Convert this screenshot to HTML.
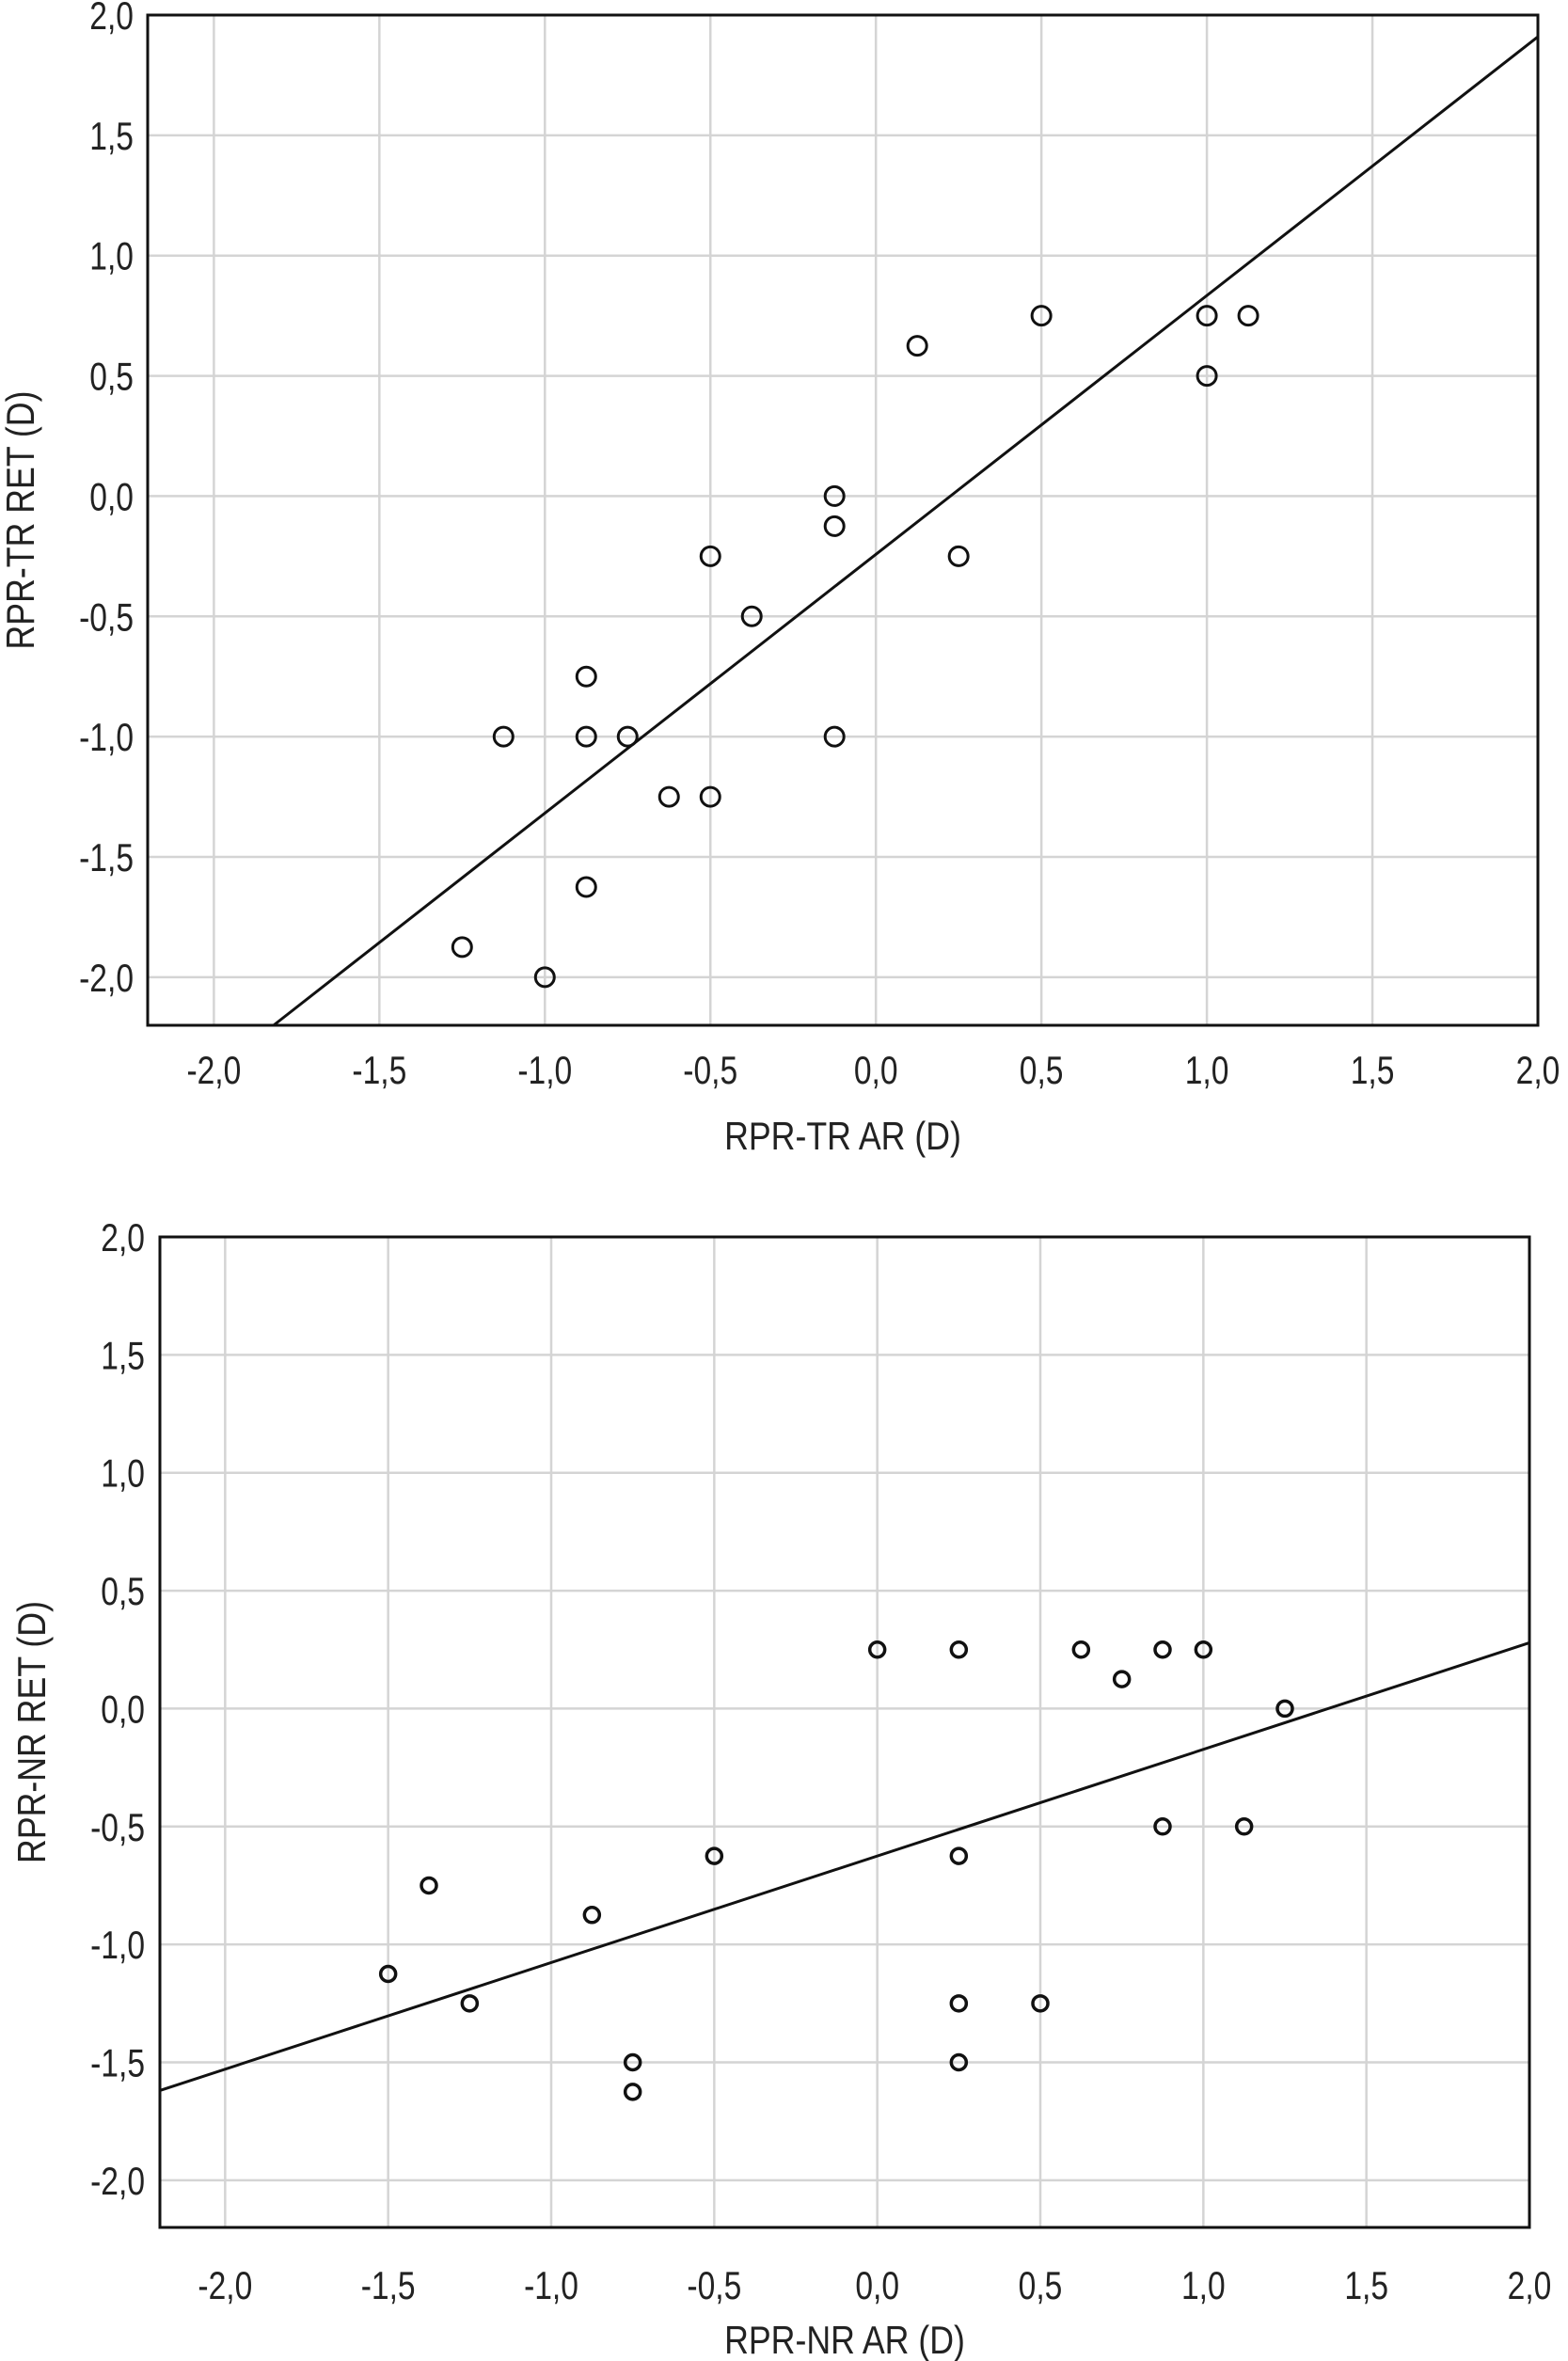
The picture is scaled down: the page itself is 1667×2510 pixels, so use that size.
<!DOCTYPE html>
<html><head><meta charset="utf-8"><style>
html,body{margin:0;padding:0;background:#fff}
svg{display:block}
text{font-family:"Liberation Sans",sans-serif;fill:#222}
</style></head><body>
<svg id="svg" width="1667" height="2510" viewBox="0 0 1667 2510"></svg>
<script>
const ticks=[-2,-1.5,-1,-0.5,0,0.5,1,1.5,2];
const tickLabels=["-2,0","-1,5","-1,0","-0,5","0,0","0,5","1,0","1,5","2,0"];
const trX=[-1.25,-1,-0.875,-1.125,-0.875,-0.75,-0.875,-0.625,-0.5,-0.5,-0.375,-0.125,-0.125,-0.125,0.125,0.25,0.5,1,1.125,1];
const trY=[-1.875,-2,-1.625,-1,-1,-1,-0.75,-1.25,-1.25,-0.25,-0.5,0,-0.125,-1,0.625,-0.25,0.75,0.75,0.75,0.5];
const trFit=[1.076,-0.242];
const nrX=[-1.5,-1.375,-1.25,-0.875,-0.75,-0.75,-0.5,0,0.25,0.25,0.25,0.25,0.5,0.625,0.75,0.875,1,0.875,1.125,1.25];
const nrY=[-1.125,-0.75,-1.25,-0.875,-1.5,-1.625,-0.625,0.25,0.25,-0.625,-1.25,-1.5,-1.25,0.25,0.125,0.25,0.25,-0.5,-0.5,0];
const nrFit=[0.452,-0.625];
const NS="http://www.w3.org/2000/svg";
const svg=document.getElementById('svg');
function mk(tag,attrs,parent){const e=document.createElementNS(NS,tag);for(const k in attrs)e.setAttribute(k,attrs[k]);(parent||svg).appendChild(e);return e;}
function chart(o){
  const g=mk('g',{});
  
  
  const sx=v=>o.L+(v-(-2.2))/(4.2)*(o.R-o.L);
  const sy=v=>o.B-(v-(-2.2))/(4.2)*(o.B-o.T);
  ticks.forEach((t,i)=>{
    const gx=mk('line',{x1:sx(t),x2:sx(t),y1:o.T,y2:o.B,stroke:'#d4d4d4','stroke-width':2.5},g);
    
    
    const gy=mk('line',{x1:o.L,x2:o.R,y1:sy(t),y2:sy(t),stroke:'#d4d4d4','stroke-width':2.5},g);
    
    
    const tx=mk('text',{x:0,y:0,'text-anchor':'middle','font-size':42,transform:`translate(${sx(t)},${o.xLabY}) scale(0.8,1)`},g);tx.textContent=tickLabels[i];
    
    
    const ty=mk('text',{x:0,y:0,'text-anchor':'end','font-size':42,transform:`translate(${o.yLabX},${sy(t)+15}) scale(0.8,1)`},g);ty.textContent=tickLabels[i];
    
    
  });
  const x1=-2.2,x2=2.0;
  let ya=o.fit[0]*x1+o.fit[1],yb=o.fit[0]*x2+o.fit[1];
  let xa=x1,xb=x2;
  if(ya<-2.2){xa=(-2.2-o.fit[1])/o.fit[0];ya=-2.2;}
  if(yb>2.0){xb=(2.0-o.fit[1])/o.fit[0];yb=2.0;}
  const ln=mk('line',{x1:sx(xa),y1:sy(ya),x2:sx(xb),y2:sy(yb),stroke:'#111','stroke-width':3},g);
  
  
  o.xs.forEach((x,i)=>{
    const c=mk('circle',{cx:sx(x),cy:sy(o.ys[i]),r:o.r,fill:'none',stroke:'#111','stroke-width':o.sw},g);
    
    
  });
  const fr=mk('rect',{x:o.L,y:o.T,width:o.R-o.L,height:o.B-o.T,fill:'none',stroke:'#111','stroke-width':3},g);
  
  
  const xt=mk('text',{x:0,y:0,'text-anchor':'middle','font-size':42,transform:`translate(${(o.L+o.R)/2},${o.xTitleY}) scale(0.85,1)`},g);xt.textContent=o.xTitle;
  
  
  const yt=mk('text',{x:0,y:0,'text-anchor':'middle','font-size':42,transform:`translate(${o.yTitleX},${(o.T+o.B)/2}) rotate(-90) scale(0.85,1)`},g);yt.textContent=o.yTitle;
  
  
}
chart({name:'chart-tr',L:157,R:1635,T:16,B:1090,xs:trX,ys:trY,fit:trFit,r:10,sw:3,xLabY:1152,yLabX:142,xTitleY:1222,yTitleX:36,xTitle:'RPR-TR AR (D)',yTitle:'RPR-TR RET (D)'});
chart({name:'chart-nr',L:170,R:1626,T:1315,B:2368,xs:nrX,ys:nrY,fit:nrFit,r:8,sw:3.5,xLabY:2444,yLabX:154,xTitleY:2502,yTitleX:48,xTitle:'RPR-NR AR (D)',yTitle:'RPR-NR RET (D)'});
</script>
</body></html>
